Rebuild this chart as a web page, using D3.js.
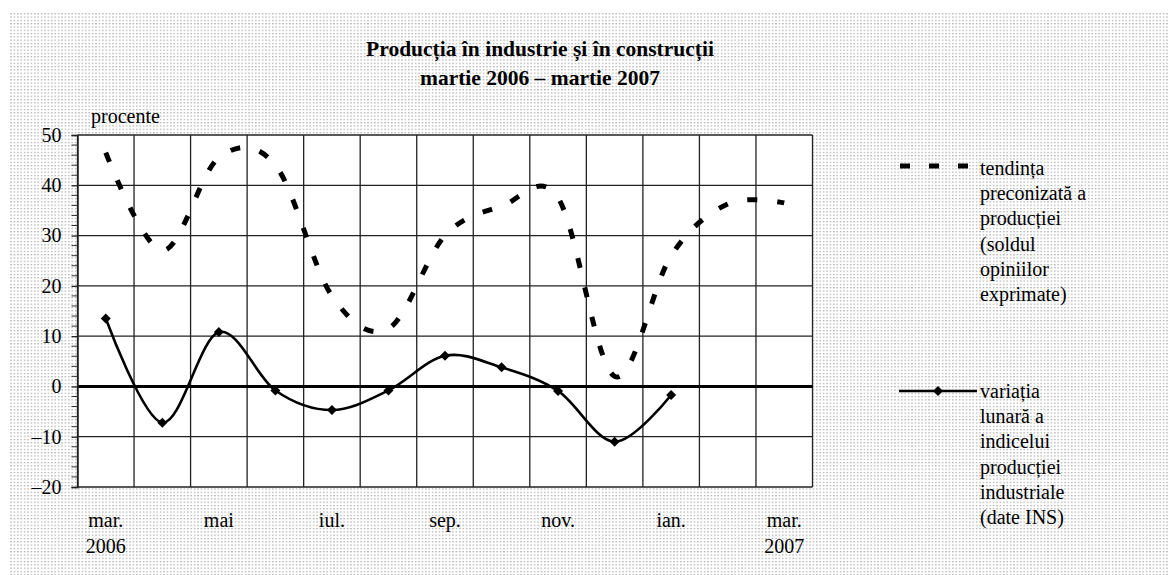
<!DOCTYPE html>
<html lang="ro">
  <head>
    <meta http-equiv="Content-Type" content="text/html; charset=UTF-8">
    <title>Producția în industrie și în construcții</title>
    <script type="text/javascript" src="https://unpkg.com/d3@7/dist/d3.min.js"></script>
    <style type="text/css">
      body { margin: 0; background: white; }
      text { font-family: "Liberation Serif", "Times New Roman", serif; fill: black; }
    </style>
  </head>
  <body>
    <script type="text/javascript">

      // luni (martie 2006 - martie 2007)
      var luni = [ "mar.", "apr.", "mai", "iun.", "iul.", "aug.", "sep.", "oct.", "nov.", "dec.", "ian.", "feb.", "mar." ];
      var etichetaLuna = [ "mar.", "", "mai", "", "iul.", "", "sep.", "", "nov.", "", "ian.", "", "mar." ];
      var etichetaAn = [ "2006", "", "", "", "", "", "", "", "", "", "", "", "2007" ];

      // tendinta preconizata a productiei (soldul opiniilor exprimate)
      var tendinta = [ 46.5, 27, 45.5, 44, 18, 11.5, 30, 35.8, 37.5, 2, 26, 36.3, 36.5 ];
      // variatia lunara a indicelui productiei industriale
      var variatia = [ 13.5, -7.2, 10.8, -0.8, -4.7, -0.8, 6.1, 3.8, -0.9, -11, -1.7, null, null ];

      var yTicks = [ -20, -10, 0, 10, 20, 30, 40, 50 ];

      var ancho = 1169;
      var alto = 575;
      var plot = { left: 77.5, right: 812.5, top: 135, bottom: 487 };

      var svg = d3.select("body")
                  .append("svg")
                  .attr("width", ancho)
                  .attr("height", alto);

      // fundal punctat
      var pat = svg.append("defs")
                   .append("pattern")
                   .attr("id", "puncte")
                   .attr("patternUnits", "userSpaceOnUse")
                   .attr("width", 3.4)
                   .attr("height", 3.3);
      pat.append("rect")
         .attr("width", 1.6)
         .attr("height", 1.2)
         .attr("fill", "#b4b4b4");

      svg.append("rect")
         .attr("x", 10).attr("y", 12)
         .attr("width", ancho - 10).attr("height", alto - 12)
         .attr("fill", "url(#puncte)");

      var escalaX = d3.scaleBand()
                      .domain( d3.range( luni.length ) )
                      .range( [ plot.left, plot.right ] )
                      .padding(0);

      var escalaY = d3.scaleLinear()
                      .domain( [ -20, 50 ] )
                      .range( [ plot.bottom, plot.top ] );

      var cx = (i) => escalaX(i) + escalaX.bandwidth() / 2;

      svg.append("rect")
         .attr("x", plot.left).attr("y", plot.top)
         .attr("width", plot.right - plot.left)
         .attr("height", plot.bottom - plot.top)
         .attr("fill", "white");

      // grila
      svg.selectAll("line.gridY")
         .data( yTicks )
         .enter()
         .append("line")
         .attr("class", "gridY")
         .attr("x1", plot.left).attr("x2", plot.right)
         .attr("y1", (d) => escalaY(d)).attr("y2", (d) => escalaY(d))
         .attr("stroke", "#222")
         .attr("stroke-width", 1.3);

      svg.selectAll("line.gridX")
         .data( d3.range( luni.length + 1 ) )
         .enter()
         .append("line")
         .attr("class", "gridX")
         .attr("x1", (d) => d < luni.length ? escalaX(d) : plot.right)
         .attr("x2", (d) => d < luni.length ? escalaX(d) : plot.right)
         .attr("y1", plot.top).attr("y2", plot.bottom)
         .attr("stroke", "#222")
         .attr("stroke-width", 1.3);

      // linia zero
      svg.append("line")
         .attr("x1", plot.left).attr("x2", plot.right)
         .attr("y1", escalaY(0)).attr("y2", escalaY(0))
         .attr("stroke", "black")
         .attr("stroke-width", 3);

      // axa Y
      var axaY = d3.axisLeft( escalaY )
                   .tickValues( yTicks )
                   .tickSize(6)
                   .tickPadding(10)
                   .tickFormat( (d) => d < 0 ? "\u2013" + Math.abs(d) : d );

      var gY = svg.append("g")
                  .attr("transform", "translate(" + plot.left + ",0)")
                  .call( axaY );
      gY.select(".domain").attr("stroke", "#222").attr("stroke-width", 1.5);
      gY.selectAll(".tick line").attr("stroke", "#222").attr("stroke-width", 1.3);
      gY.selectAll("text")
        .attr("font-size", "20px")
        .attr("font-family", "Liberation Serif");

      svg.selectAll("line.minor")
         .data( d3.range( -20, 51, 2 ).filter( (d) => d % 10 != 0 ) )
         .enter()
         .append("line")
         .attr("class", "minor")
         .attr("x1", plot.left - 6).attr("x2", plot.left)
         .attr("y1", (d) => escalaY(d)).attr("y2", (d) => escalaY(d))
         .attr("stroke", "#333")
         .attr("stroke-width", 1);

      // etichete axa X
      svg.selectAll("text.luna")
         .data( etichetaLuna )
         .enter()
         .append("text")
         .attr("class", "luna")
         .attr("x", (d, i) => cx(i))
         .attr("y", 527)
         .attr("text-anchor", "middle")
         .attr("font-size", "20px")
         .text( (d) => d );

      svg.selectAll("text.an")
         .data( etichetaAn )
         .enter()
         .append("text")
         .attr("class", "an")
         .attr("x", (d, i) => cx(i))
         .attr("y", 553)
         .attr("text-anchor", "middle")
         .attr("font-size", "20px")
         .text( (d) => d );

      svg.append("text")
         .attr("x", 91).attr("y", 123)
         .attr("font-size", "20px")
         .text("procente");

      // titlu
      svg.selectAll("text.titlu")
         .data( [ "Producția în industrie și în construcții", "martie 2006 \u2013 martie 2007" ] )
         .enter()
         .append("text")
         .attr("class", "titlu")
         .attr("x", 540)
         .attr("y", (d, i) => 56 + i * 29)
         .attr("text-anchor", "middle")
         .attr("font-size", "21.5px")
         .attr("font-weight", "bold")
         .text( (d) => d );

      // serii
      var linie = d3.line()
                    .defined( (d) => d != null )
                    .x( (d, i) => cx(i) )
                    .y( (d) => escalaY(d) )
                    .curve( d3.curveCardinal.tension(0) );

      svg.append("path")
         .datum( tendinta )
         .attr("d", linie)
         .attr("fill", "none")
         .attr("stroke", "black")
         .attr("stroke-width", 5)
         .attr("stroke-dasharray", "10,20");

      svg.append("path")
         .datum( variatia )
         .attr("d", linie)
         .attr("fill", "none")
         .attr("stroke", "black")
         .attr("stroke-width", 2.6);

      var romb = d3.symbol().type( d3.symbolSquare ).size(50);

      svg.selectAll("path.romb")
         .data( variatia.map( (d, i) => ({ v: d, i: i }) ).filter( (d) => d.v != null ) )
         .enter()
         .append("path")
         .attr("class", "romb")
         .attr("d", romb)
         .attr("transform", (d) => "translate(" + cx(d.i) + "," + escalaY(d.v) + ") rotate(45)")
         .attr("fill", "black");

      // legenda
      svg.append("line")
         .attr("x1", 900).attr("x2", 970)
         .attr("y1", 166).attr("y2", 166)
         .attr("stroke", "black")
         .attr("stroke-width", 5)
         .attr("stroke-dasharray", "10,19");

      var leg1 = [ "tendința", "preconizată a", "producției", "(soldul", "opiniilor", "exprimate)" ];
      var leg2 = [ "variația", "lunară a", "indicelui", "producției", "industriale", "(date INS)" ];

      svg.selectAll("text.leg1")
         .data( leg1 )
         .enter()
         .append("text")
         .attr("class", "leg1")
         .attr("x", 980)
         .attr("y", (d, i) => 175 + i * 25.2)
         .attr("font-size", "20px")
         .text( (d) => d );

      svg.append("line")
         .attr("x1", 899).attr("x2", 977)
         .attr("y1", 391).attr("y2", 391)
         .attr("stroke", "black")
         .attr("stroke-width", 2.6);

      svg.append("path")
         .attr("d", romb)
         .attr("transform", "translate(938,391) rotate(45)")
         .attr("fill", "black");

      svg.selectAll("text.leg2")
         .data( leg2 )
         .enter()
         .append("text")
         .attr("class", "leg2")
         .attr("x", 980)
         .attr("y", (d, i) => 398 + i * 25.2)
         .attr("font-size", "20px")
         .text( (d) => d );

    </script>
  </body>
</html>
